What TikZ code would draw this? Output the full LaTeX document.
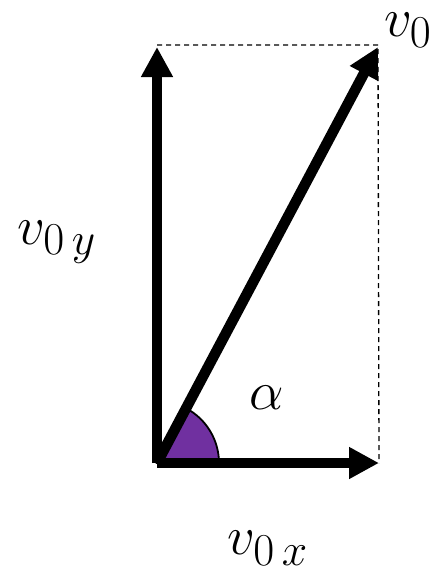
\documentclass[tikz,border=0pt]{standalone}
\usepackage{graphicx}
\usetikzlibrary{arrows.meta}
\definecolor{anglepurple}{HTML}{7030A0}
\newcommand{\biglbl}[1]{\scalebox{2.2}{\Huge #1}}
\begin{document}
\begin{tikzpicture}[x=1pt,y=-1pt,
  vec/.style={line width=10.5pt,-{Triangle[length=30pt,width=30pt]}},
  guide/.style={line width=1.3pt,dash pattern=on 5pt off 4pt},
  lbl/.style={inner sep=0pt}]
\useasboundingbox (0,0) rectangle (446,579);
\coordinate (O) at (157,463);
\coordinate (Y) at (157,47);
\coordinate (X) at (379,463);
\coordinate (V) at (378,47);
\coordinate (C) at (378,45);
\coordinate (T) at (157,45);
\draw[guide] (T) -- (C) -- (X);
\filldraw[fill=anglepurple,draw=black,line width=1.8pt] (O) -- ++(62,0) arc[start angle=0,end angle=-62,radius=62] -- cycle;
\draw[vec] (O) -- (Y);
\draw[vec] (O) -- (X);
\draw[vec] (O) -- (V);
\node[lbl] (lv) at (408,30) {\biglbl{$v_0$}};
\node[lbl] (lvy) at (57,242) {\biglbl{$v_{0\,y}$}};
\node[lbl] (la) at (267,398) {\biglbl{$\alpha$}};
\node[lbl] (lvx) at (268,548) {\biglbl{$v_{0\,x}$}};
\end{tikzpicture}
\end{document}
